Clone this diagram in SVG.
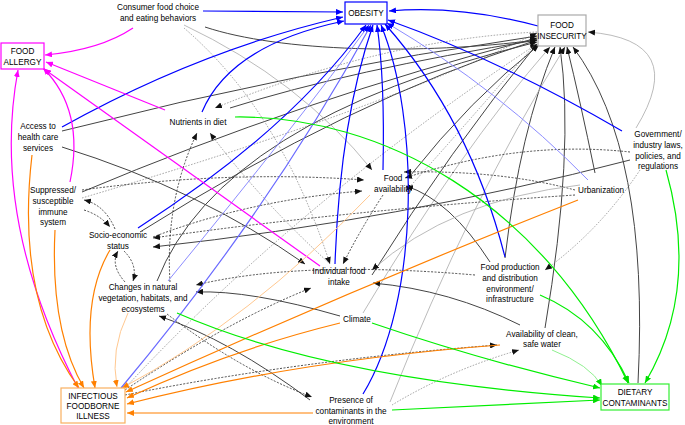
<svg xmlns="http://www.w3.org/2000/svg" width="685" height="425" viewBox="0 0 685 425">
<style>
text{font-family:"Liberation Sans",Arial,sans-serif;font-size:8.2px;fill:#000;text-anchor:middle}
.e{fill:none;stroke-width:1}
.bl{stroke:#0000ff;stroke-width:1.2;marker-end:url(#mb)}
.lb{stroke:#8c8cff;stroke-width:1;marker-end:url(#mb)}
.mg{stroke:#ff00ff;stroke-width:1.2;marker-end:url(#mm)}
.or{stroke:#ff8000;stroke-width:1.2;marker-end:url(#mo)}
.lo{stroke:#ffc890;stroke-width:1;marker-end:url(#mo)}
.gr{stroke:#00ee00;stroke-width:1.2;marker-end:url(#mg)}
.lg{stroke:#90f090;stroke-width:1;marker-end:url(#mg)}
.dk{stroke:#444;stroke-width:1;marker-end:url(#mk)}
.gy{stroke:#aaa;stroke-width:0.8;marker-end:url(#mk)}
.ds{stroke:#222;stroke-width:0.8;stroke-dasharray:2 1.5;marker-end:url(#mk)}
.gd{stroke:#777;stroke-width:0.7;stroke-dasharray:1.5 1.5;marker-end:url(#mk)}
.box{fill:#fff;stroke-width:1.2}
</style>
<defs>
<marker id="mb" markerUnits="userSpaceOnUse" markerWidth="7" markerHeight="6" refX="7" refY="3" orient="auto"><path d="M0,0 L7,3 L0,6z" fill="#0000ff"/></marker>
<marker id="mm" markerUnits="userSpaceOnUse" markerWidth="7" markerHeight="6" refX="7" refY="3" orient="auto"><path d="M0,0 L7,3 L0,6z" fill="#ff00ff"/></marker>
<marker id="mo" markerUnits="userSpaceOnUse" markerWidth="7" markerHeight="6" refX="7" refY="3" orient="auto"><path d="M0,0 L7,3 L0,6z" fill="#ff8000"/></marker>
<marker id="mg" markerUnits="userSpaceOnUse" markerWidth="7" markerHeight="6" refX="7" refY="3" orient="auto"><path d="M0,0 L7,3 L0,6z" fill="#00dd00"/></marker>
<marker id="mk" markerUnits="userSpaceOnUse" markerWidth="7" markerHeight="6" refX="7" refY="3" orient="auto"><path d="M0,0 L7,3 L0,6z" fill="#111"/></marker>
</defs>
<g id="connectors" class="e">
<path class="dk" d="M205,27 C280,52 420,55 537,40"/>
<path class="dk" d="M62,131 Q300,70 537,36"/>
<path class="dk" d="M82,192 Q300,100 537,38"/>
<path class="gd" d="M82,198 Q380,110 537,33"/>
<path class="dk" d="M140,232 Q350,100 537,40"/>
<path class="dk" d="M157,281 Q220,120 537,42"/>
<path class="dk" d="M372,275 Q450,150 537,44"/>
<path class="dk" d="M410,176 Q470,100 539,45"/>
<path class="dk" d="M505,258 Q520,130 555,47"/>
<path class="dk" d="M545,328 Q575,150 560,47"/>
<path class="dk" d="M638,383 Q650,150 573,47"/>
<path class="dk" d="M595,173 Q580,100 567,47"/>
<path class="gy" d="M636,128 Q690,40 588,32"/>
<path class="gd" d="M125,388 Q300,200 537,44"/>
<path class="gy" d="M363,313 Q460,150 550,47"/>
<path class="gy" d="M390,402 Q470,200 565,47"/>
<path class="dk" d="M230,108 Q350,70 537,40"/>
<path class="gd" d="M184,28 Q280,110 330,264"/>
<path class="gy" d="M184,25 Q300,80 372,170"/>
<path class="gd" d="M537,32 Q380,40 215,108"/>
<path class="ds" d="M170,282 Q165,200 197,133"/>
<path class="gd" d="M330,264 Q260,200 210,133"/>
<path class="ds" d="M115,229 Q105,205 84,200"/>
<path class="ds" d="M84,210 Q100,215 110,227"/>
<path class="ds" d="M125,282 Q110,265 118,251"/>
<path class="ds" d="M124,251 Q138,265 133,281"/>
<path class="ds" d="M82,190 Q230,170 364,180"/>
<path class="ds" d="M153,237 Q250,200 362,191"/>
<path class="ds" d="M575,190 Q500,170 404,172"/>
<path class="ds" d="M630,152 Q520,140 405,178"/>
<path class="dk" d="M490,262 Q450,200 406,186"/>
<path class="gd" d="M537,42 Q470,120 406,191"/>
<path class="ds" d="M575,195 Q350,210 153,238"/>
<path class="dk" d="M630,160 Q400,220 153,247"/>
<path class="ds" d="M475,275 Q300,260 196,285"/>
<path class="dk" d="M340,316 Q250,290 196,292"/>
<path class="dk" d="M310,400 Q230,340 159,316"/>
<path class="ds" d="M167,314 Q240,370 312,397"/>
<path class="ds" d="M383,195 Q360,230 343,264"/>
<path class="dk" d="M62,147 Q200,190 305,264"/>
<path class="ds" d="M125,390 Q230,320 311,288"/>
<path class="dk" d="M520,325 Q450,290 373,283"/>
<path class="gd" d="M640,170 Q600,230 545,270"/>
<path class="gd" d="M392,405 Q450,370 519,350"/>
<path class="ds" d="M125,395 Q300,360 497,345"/>
<path class="gy" d="M580,185 Q450,200 372,270"/>
<path class="bl" d="M203,11 L343,12"/>
<path class="bl" d="M62,127 Q200,50 343,17"/>
<path class="bl" d="M202,112 Q230,45 344,21"/>
<path class="bl" d="M138,228 Q290,130 366,25"/>
<path class="lb" d="M168,281 Q300,120 369,25"/>
<path class="bl" d="M121,388 Q270,210 371,25" style="stroke:#6a6aff"/>
<path class="bl" d="M335,264 Q340,120 373,25"/>
<path class="bl" d="M383,170 Q385,80 377,25"/>
<path class="bl" d="M363,394 C420,300 420,120 381,25"/>
<path class="bl" d="M505,257 Q470,120 385,24"/>
<path class="lb" d="M588,180 Q500,90 387,23"/>
<path class="bl" d="M622,131 Q500,60 388,20"/>
<path class="bl" d="M538,26 Q460,5 389,11"/>
<path class="mg" d="M133,28 Q100,50 45,55"/>
<path class="mg" d="M165,110 L46,62"/>
<path class="mg" d="M320,266 L44,69"/>
<path class="mg" d="M70,182 Q85,110 43,68"/>
<path class="mg" d="M78,388 Q-10,220 18,70"/>
<path class="or" d="M32,155 Q15,300 79,388"/>
<path class="or" d="M55,230 Q50,330 84,388"/>
<path class="or" d="M110,250 Q80,300 95,388"/>
<path class="lo" d="M128,313 Q110,350 117,387"/>
<path class="lo" d="M370,195 Q250,320 122,388"/>
<path class="or" d="M578,200 Q350,290 126,392"/>
<path class="or" d="M340,323 Q230,350 127,398"/>
<path class="or" d="M500,345 Q300,360 127,404"/>
<path class="or" d="M313,413 L127,413"/>
<path class="gr" d="M235,117 C380,115 540,200 628,383"/>
<path class="gr" d="M666,170 Q700,290 645,383"/>
<path class="gr" d="M540,295 Q600,320 629,383"/>
<path class="lg" d="M552,350 Q590,365 602,386"/>
<path class="gr" d="M372,323 Q480,360 600,388"/>
<path class="gr" d="M177,313 Q330,380 600,398"/>
<path class="gr" d="M392,410 L600,400"/>
</g>
<g id="obesity"><rect class="box" x="345" y="2" width="42" height="22" stroke="#0000ff"/><text x="366" y="16">OBESITY</text></g>
<g id="food-insecurity"><rect class="box" x="538" y="15" width="48" height="31" stroke="#aaa"/><text x="562" y="28">FOOD</text><text x="562" y="39">INSECURITY</text></g>
<g id="food-allergy"><rect class="box" x="1" y="43" width="43" height="26" stroke="#ff00ff"/><text x="22.5" y="54">FOOD</text><text x="22.5" y="65">ALLERGY</text></g>
<g id="infectious"><rect class="box" x="61" y="388" width="64" height="35" stroke="#f8b060"/><text x="93" y="399">INFECTIOUS</text><text x="93" y="409">FOODBORNE</text><text x="93" y="419">ILLNESS</text></g>
<g id="dietary"><rect class="box" x="601" y="384" width="68" height="26" stroke="#33ee33"/><text x="635" y="395">DIETARY</text><text x="635" y="406">CONTAMINANTS</text></g>
<g id="consumer"><text x="158" y="10">Consumer food choice</text><text x="158" y="21">and eating behaviors</text></g>
<g id="nutrients"><text x="198" y="125">Nutrients in diet</text></g>
<g id="access"><text x="38" y="129">Access to</text><text x="38" y="140">health care</text><text x="38" y="151">services</text></g>
<g id="suppressed"><text x="53" y="193">Suppressed/</text><text x="53" y="204">susceptible</text><text x="53" y="215">immune</text><text x="53" y="225">system</text></g>
<g id="socio"><text x="118" y="238">Socio-economic</text><text x="118" y="249">status</text></g>
<g id="food-availability"><text x="393" y="181">Food</text><text x="393" y="192">availability</text></g>
<g id="individual"><text x="339" y="274">Individual food</text><text x="339" y="285">intake</text></g>
<g id="changes"><text x="143" y="290">Changes in natural</text><text x="143" y="301">vegetation, habitats, and</text><text x="143" y="312">ecosystems</text></g>
<g id="climate"><text x="357" y="322">Climate</text></g>
<g id="urbanization"><text x="601" y="193">Urbanization</text></g>
<g id="government"><text x="658" y="137">Government/</text><text x="658" y="148">industry laws,</text><text x="658" y="159">policies, and</text><text x="658" y="169">regulations</text></g>
<g id="food-production"><text x="510" y="270">Food production</text><text x="510" y="281">and distribution</text><text x="510" y="292">environment/</text><text x="510" y="302">infrastructure</text></g>
<g id="water"><text x="542" y="337">Availability of clean,</text><text x="542" y="347">safe water</text></g>
<g id="presence"><text x="351" y="403">Presence of</text><text x="351" y="414">contaminants in the</text><text x="351" y="424">environment</text></g>
</svg>
